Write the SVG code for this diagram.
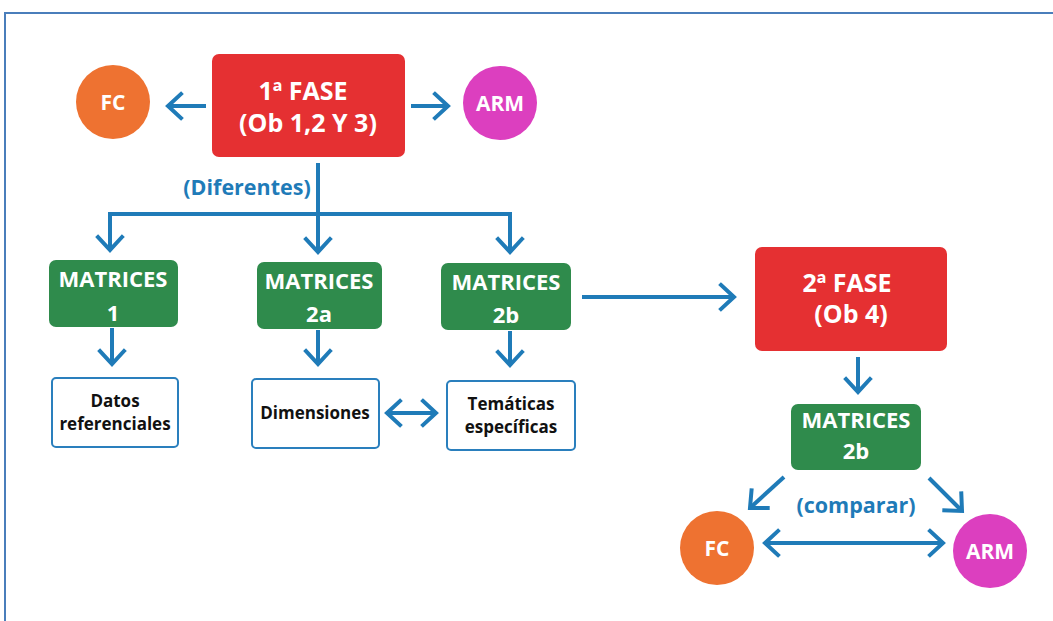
<svg xmlns="http://www.w3.org/2000/svg" width="1053" height="621" viewBox="0 0 1053 621">
  <style>
    .t { font-family: "Open Sans", "Noto Sans", "Liberation Sans", sans-serif; font-weight: 700; text-anchor: middle; }
    .big { font-size: 25px; fill: #ffffff; }
    .mat { font-size: 22px; fill: #ffffff; }
    .circ { font-size: 21px; fill: #ffffff; }
    .lbl { font-size: 21.5px; fill: #1f7bb8; }
    .box { font-size: 17px; fill: #111111; }
    .phase { fill: #e53032; }
    .green { fill: #2f8b4c; }
    .white { fill: #ffffff; stroke: #2a7fbd; stroke-width: 2; }
    .conn { stroke: #1f7bb8; stroke-width: 4; fill: none; }
  </style>
  <defs>
    <marker id="head" markerUnits="userSpaceOnUse" viewBox="-18 -16 22 32" markerWidth="22" markerHeight="32" refX="0" refY="0" orient="auto-start-reverse">
      <path d="M -13 -12 L 0 0 L -13 12" fill="none" stroke="#1f7bb8" stroke-width="4" stroke-linecap="square"/>
    </marker>
  </defs>

  <rect width="1053" height="621" fill="#ffffff"/>
  <!-- frame -->
  <path d="M 5 621 L 5 13 L 1053 13" fill="none" stroke="#4a7ebb" stroke-width="2"/>

  <!-- connectors -->
  <g id="connectors" class="conn">
    <line x1="206" y1="106" x2="168" y2="106" marker-end="url(#head)"/>
    <line x1="411" y1="106" x2="448" y2="106" marker-end="url(#head)"/>
    <polyline points="318,163 318,214"/>
    <line x1="108" y1="214" x2="512" y2="214"/>
    <line x1="110" y1="214" x2="110" y2="250" marker-end="url(#head)"/>
    <line x1="318" y1="214" x2="318" y2="252" marker-end="url(#head)"/>
    <line x1="510" y1="214" x2="510" y2="252" marker-end="url(#head)"/>
    <line x1="112" y1="328" x2="112" y2="364" marker-end="url(#head)"/>
    <line x1="318" y1="330" x2="318" y2="364" marker-end="url(#head)"/>
    <line x1="510" y1="331" x2="510" y2="365" marker-end="url(#head)"/>
    <line x1="387" y1="413" x2="436" y2="413" marker-start="url(#head)" marker-end="url(#head)"/>
    <line x1="582" y1="297" x2="734" y2="297" marker-end="url(#head)"/>
    <line x1="858" y1="357" x2="858" y2="392" marker-end="url(#head)"/>
    <line x1="784" y1="477" x2="750" y2="508" marker-end="url(#head)"/>
    <line x1="929" y1="478" x2="962" y2="511" marker-end="url(#head)"/>
    <line x1="765" y1="543" x2="943" y2="543" marker-start="url(#head)" marker-end="url(#head)"/>
  </g>

  <text class="t lbl" x="247" y="195">(Diferentes)</text>
  <text class="t lbl" x="856" y="513">(comparar)</text>

  <g id="fase1">
    <rect class="phase" x="212" y="54" width="193" height="103" rx="7"/>
    <text class="t big" x="303" y="100">1ª FASE</text>
    <text class="t big" x="308" y="132">(Ob 1,2 Y 3)</text>
  </g>
  <g id="fc1">
    <circle cx="113" cy="102" r="37" fill="#ee7231"/>
    <text class="t circ" x="113" y="110">FC</text>
  </g>
  <g id="arm1">
    <circle cx="500" cy="103" r="37" fill="#dc3fbf"/>
    <text class="t circ" x="500" y="111">ARM</text>
  </g>

  <g id="mat1">
    <rect class="green" x="49" y="260" width="129" height="67" rx="7"/>
    <text class="t mat" x="113" y="287">MATRICES</text>
    <text class="t mat" x="113" y="321">1</text>
  </g>
  <g id="mat2a">
    <rect class="green" x="257" y="262" width="125" height="67" rx="7"/>
    <text class="t mat" x="319" y="289">MATRICES</text>
    <text class="t mat" x="319" y="322">2a</text>
  </g>
  <g id="mat2b">
    <rect class="green" x="441" y="263" width="130" height="67" rx="7"/>
    <text class="t mat" x="506" y="290">MATRICES</text>
    <text class="t mat" x="506" y="323">2b</text>
  </g>

  <g id="datos">
    <rect class="white" x="52" y="378" width="126" height="69" rx="4"/>
    <text class="t box" x="115" y="407">Datos</text>
    <text class="t box" x="115" y="430">referenciales</text>
  </g>
  <g id="dimensiones">
    <rect class="white" x="252" y="379" width="127" height="69" rx="4"/>
    <text class="t box" x="315" y="419">Dimensiones</text>
  </g>
  <g id="tematicas">
    <rect class="white" x="447" y="381" width="128" height="69" rx="4"/>
    <text class="t box" x="511" y="410">Temáticas</text>
    <text class="t box" x="511" y="433">específicas</text>
  </g>

  <g id="fase2">
    <rect class="phase" x="755" y="247" width="192" height="104" rx="7"/>
    <text class="t big" x="847" y="292">2ª FASE</text>
    <text class="t big" x="851" y="323">(Ob 4)</text>
  </g>
  <g id="mat2b-2">
    <rect class="green" x="791" y="404" width="130" height="66" rx="7"/>
    <text class="t mat" x="856" y="428">MATRICES</text>
    <text class="t mat" x="856" y="459">2b</text>
  </g>
  <g id="fc2">
    <circle cx="717" cy="548" r="37" fill="#ee7231"/>
    <text class="t circ" x="717" y="556">FC</text>
  </g>
  <g id="arm2">
    <circle cx="990" cy="551" r="37" fill="#dc3fbf"/>
    <text class="t circ" x="990" y="559">ARM</text>
  </g>
</svg>
